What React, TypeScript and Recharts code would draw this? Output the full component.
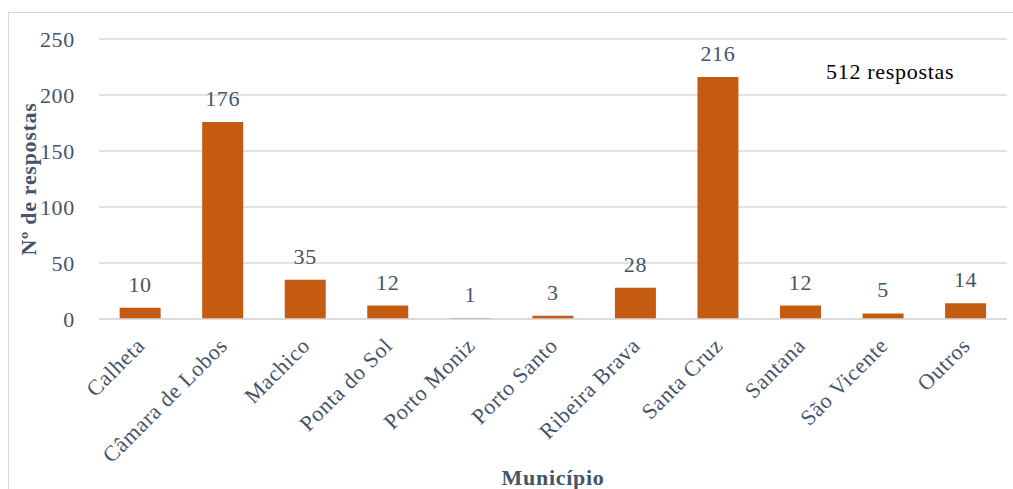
import React from "react";
import { BarChart, Bar, XAxis, YAxis, CartesianGrid, LabelList } from "recharts";

const categories = ["Calheta", "Câmara de Lobos", "Machico", "Ponta do Sol", "Porto Moniz", "Porto Santo", "Ribeira Brava", "Santa Cruz", "Santana", "São Vicente", "Outros"];
const values = [10, 176, 35, 12, 1, 3, 28, 216, 12, 5, 14];
const yTicks = [0, 50, 100, 150, 200, 250];

const data = categories.map((c, i) => ({ name: c, value: values[i] }));

const FONT = "'Times New Roman', 'Liberation Serif', Times, 'DejaVu Serif', serif";
const TXT = "#44546A";
const FS = 22;
const LS = 0.7;

const Tick = (props: any) => {
  const { x, y, payload } = props;
  return (
    <g transform={`translate(${x + 1},${y + 15}) rotate(-45)`}>
      <text x={0} y={0} dy={7} textAnchor="end" fill={TXT} style={{ fontSize: FS, fontFamily: FONT, letterSpacing: LS }}>
        {payload.value}
      </text>
    </g>
  );
};

export default function App() {
  return (
    <div style={{ position: "absolute", left: 0, top: 0, width: 1013, height: 489, background: "#fff", overflow: "hidden", fontFamily: FONT }}>
      <div style={{ position: "absolute", left: 8, top: 12, width: 1010, height: 500, border: "1px solid #D9D9D9", boxSizing: "border-box" }} />
      <div style={{ position: "absolute", left: 0, top: 0 }}>
        <BarChart width={1013} height={489} data={data} margin={{ top: 39, right: 6, bottom: 8, left: 20 }} barCategoryGap="25%" style={{ fontFamily: FONT }}>
          <CartesianGrid vertical={false} stroke="#D9D9D9" strokeWidth={1.3} />
          <XAxis
            dataKey="name"
            interval={0}
            height={162}
            tick={<Tick />}
            tickLine={false}
            axisLine={{ stroke: "#D9D9D9", strokeWidth: 1.3 }}
            label={{ value: "Município", position: "insideBottom", offset: -4, fill: TXT, style: { fontSize: FS, fontWeight: "bold", fontFamily: FONT, letterSpacing: LS } }}
          />
          <YAxis
            domain={[0, 250]}
            ticks={yTicks}
            width={79}
            tickLine={false}
            axisLine={false}
            tick={{ fill: TXT, style: { fontSize: FS, fontFamily: FONT, letterSpacing: LS } }}
            tickMargin={18}
            label={{ value: "Nº de respostas", angle: -90, position: "insideLeft", offset: 8, fill: TXT, style: { textAnchor: "middle", fontSize: FS, fontWeight: "bold", fontFamily: FONT, letterSpacing: LS } }}
          />
          <Bar dataKey="value" fill="#C55A11" isAnimationActive={false}>
            <LabelList dataKey="value" position="top" offset={16} fill={TXT} style={{ fontSize: FS, fontFamily: FONT, letterSpacing: LS }} />
          </Bar>
          <text x={826} y={79} fill="#000" style={{ fontSize: FS, fontFamily: FONT, letterSpacing: LS }}>512 respostas</text>
        </BarChart>
      </div>
    </div>
  );
}
